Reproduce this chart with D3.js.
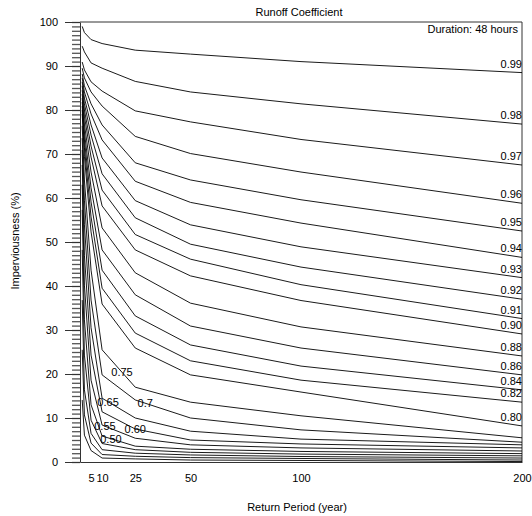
<!DOCTYPE html>
<html>
<head>
<meta charset="utf-8">
<script src="https://cdn.jsdelivr.net/npm/d3@7"></script>
<style>
  html, body { margin: 0; padding: 0; background: #fff; }
  svg { display: block; }
  text { font-family: "Liberation Sans", Arial, Helvetica, sans-serif; font-size: 11px; fill: #000; }
</style>
</head>
<body>
<svg id="chart" width="532" height="516"></svg>
<script>
// ---- Data (imperviousness % at each return period, per runoff coefficient) ----
const returnPeriods = [1, 2, 5, 10, 25, 50, 100, 200];
const xTicks = [5, 10, 25, 50, 100, 200];
const yTicks = [0, 10, 20, 30, 40, 50, 60, 70, 80, 90, 100];

const c099 = [99.0, 97.6, 96.0, 95.1, 93.6, 92.7, 91.0, 88.5];
const c098 = [94.5, 93.2, 90.7, 89.5, 86.5, 84.1, 81.4, 76.8];
const c097 = [90.9, 89.1, 86.4, 84.3, 79.8, 77.3, 73.3, 67.5];
const c096 = [89.5, 87.3, 84.1, 80.9, 74.0, 70.1, 65.9, 58.8];
const c095 = [88.2, 85.5, 81.4, 76.6, 68.0, 64.1, 59.6, 52.5];
const c094 = [87.3, 84.1, 79.1, 73.2, 63.8, 59.0, 54.3, 46.5];
const c093 = [86.4, 82.7, 76.6, 69.1, 59.4, 53.9, 48.9, 41.9];
const c092 = [85.5, 81.4, 74.3, 65.5, 55.5, 49.5, 44.3, 37.0];
const c091 = [84.5, 80.0, 71.8, 61.8, 51.7, 46.1, 40.3, 32.6];
const c090 = [83.6, 78.6, 69.3, 58.2, 48.2, 42.3, 36.7, 29.1];
const c088 = [82.7, 76.8, 65.9, 53.2, 43.0, 36.1, 30.7, 24.1];
const c086 = [81.8, 75.0, 62.3, 48.2, 38.0, 30.9, 25.9, 19.8];
const c084 = [80.9, 73.2, 59.1, 43.6, 33.2, 26.6, 21.8, 16.4];
const c082 = [80.0, 71.4, 55.7, 39.5, 29.3, 23.0, 18.6, 13.6];
const c080 = [79.1, 69.5, 52.3, 35.9, 25.9, 19.8, 15.9, 8.2];
const c075 = [76.4, 64.1, 43.6, 25.5, 17.0, 13.6, 10.5, 5.5];
const c070 = [73.6, 59.5, 36.8, 19.8, 14.1, 10.0, 7.3, 4.5];
const c065 = [70.9, 53.9, 30.5, 14.5, 10.0, 7.0, 5.2, 3.9];
const c060 = [67.5, 47.0, 24.3, 11.4, 7.5, 5.0, 4.1, 3.2];
const c055 = [63.0, 40.2, 18.6, 8.4, 5.4, 3.9, 3.2, 2.5];
const c050 = [57.3, 32.3, 13.0, 5.9, 3.6, 2.9, 2.4, 1.9];
const c045 = [48.2, 24.3, 9.5, 4.2, 2.8, 2.2, 1.8, 1.4];
const c040 = [36.8, 16.4, 6.5, 2.8, 2.0, 1.6, 1.25, 0.9];
const c035 = [25.5, 10.7, 4.3, 1.7, 1.3, 1.0, 0.8, 0.45];
const c030 = [14.1, 6.1, 2.6, 0.9, 0.7, 0.45, 0.35, 0.1];

const seriesValues = [c099, c098, c097, c096, c095, c094, c093, c092, c091, c090,
                      c088, c086, c084, c082, c080, c075, c070, c065, c060, c055,
                      c050, c045, c040, c035, c030];

// labels at the right edge (end of line)
const rightLabels = ["0.99","0.98","0.97","0.96","0.95","0.94","0.93","0.92","0.91","0.90",
                     "0.88","0.86","0.84","0.82","0.80"];
// inline labels for lower curves: text, series index, return period where placed
const inlineLabels = ["0.75", "0.7", "0.65", "0.60", "0.55", "0.50"];
const inlineSeries = [15, 16, 17, 18, 19, 20];
const inlineAtT    = [19, 29.5, 12.7, 25, 11.3, 14];

// ---- Layout ----
const svg = d3.select("#chart");
const mLeft = 80, mRight = 522, mTop = 22, mBottom = 462;

const x = d3.scaleLinear().domain([0, 200]).range([mLeft, mRight]);
const y = d3.scaleLinear().domain([0, 100]).range([mBottom, mTop]);

const frameColor = "#333";
const fontFam = "'Liberation Sans', Arial, sans-serif";

// Minor y ticks
svg.append("g")
  .attr("transform", `translate(${mLeft},0)`)
  .call(d3.axisLeft(y).tickValues(d3.range(0, 101, 1)).tickSize(8).tickSizeOuter(0).tickFormat(""))
  .call(g => g.select(".domain").remove())
  .call(g => g.selectAll("line").attr("stroke", "#555").attr("stroke-width", 1.3));

// Major y ticks with labels
svg.append("g")
  .attr("transform", `translate(${mLeft},0)`)
  .call(d3.axisLeft(y).tickValues(yTicks).tickSize(15).tickSizeOuter(0).tickPadding(7))
  .call(g => g.select(".domain").attr("stroke", frameColor))
  .call(g => g.selectAll("line").attr("stroke", frameColor))
  .call(g => g.selectAll("text").attr("fill", "#000").style("font-size", "11px")
       .style("font-family", fontFam));

// Bottom axis
svg.append("g")
  .attr("transform", `translate(0,${mBottom})`)
  .call(d3.axisBottom(x).tickValues(xTicks).tickSize(0).tickSizeOuter(0).tickPadding(12))
  .call(g => g.select(".domain").attr("stroke", frameColor))
  .call(g => g.selectAll("text").attr("fill", "#000").style("font-size", "11px")
       .style("font-family", fontFam));

// Top and right border
svg.append("line").attr("x1", mLeft).attr("x2", mRight).attr("y1", mTop).attr("y2", mTop)
  .attr("stroke", frameColor);
svg.append("line").attr("x1", mRight).attr("x2", mRight).attr("y1", mTop).attr("y2", mBottom)
  .attr("stroke", frameColor);

// Curves
const line = d3.line()
  .x((d, i) => x(returnPeriods[i]))
  .y(d => y(d));

svg.append("g")
  .selectAll("path")
  .data(seriesValues)
  .join("path")
  .attr("d", d => line(d))
  .attr("fill", "none")
  .attr("stroke", "#000")
  .attr("stroke-width", 0.9);

// Right-edge labels
svg.append("g")
  .selectAll("text")
  .data(rightLabels)
  .join("text")
  .attr("x", x(200))
  .attr("y", (d, i) => y(seriesValues[i][seriesValues[i].length - 1]) - 5)
  .attr("text-anchor", "end")
  .text(d => d);

// Inline labels
function valueAt(vals, t) {
  for (let i = 0; i < returnPeriods.length - 1; i++) {
    const t0 = returnPeriods[i], t1 = returnPeriods[i + 1];
    if (t >= t0 && t <= t1) {
      return vals[i] + (vals[i + 1] - vals[i]) * (t - t0) / (t1 - t0);
    }
  }
  return vals[vals.length - 1];
}
svg.append("g")
  .selectAll("text")
  .data(inlineLabels)
  .join("text")
  .attr("x", (d, i) => x(inlineAtT[i]))
  .attr("y", (d, i) => y(valueAt(seriesValues[inlineSeries[i]], inlineAtT[i])))
  .attr("dy", "0.35em")
  .attr("text-anchor", "middle")
  .text(d => d);

// Titles
svg.append("text").attr("x", 299).attr("y", 16).attr("text-anchor", "middle")
  .text("Runoff Coefficient");
svg.append("text").attr("x", 518).attr("y", 33).attr("text-anchor", "end")
  .text("Duration: 48 hours");
svg.append("text").attr("x", 297).attr("y", 511).attr("text-anchor", "middle")
  .text("Return Period (year)");
svg.append("text").attr("transform", "translate(19,241) rotate(-90)").attr("text-anchor", "middle")
  .text("Imperviousness (%)");
</script>
</body>
</html>
